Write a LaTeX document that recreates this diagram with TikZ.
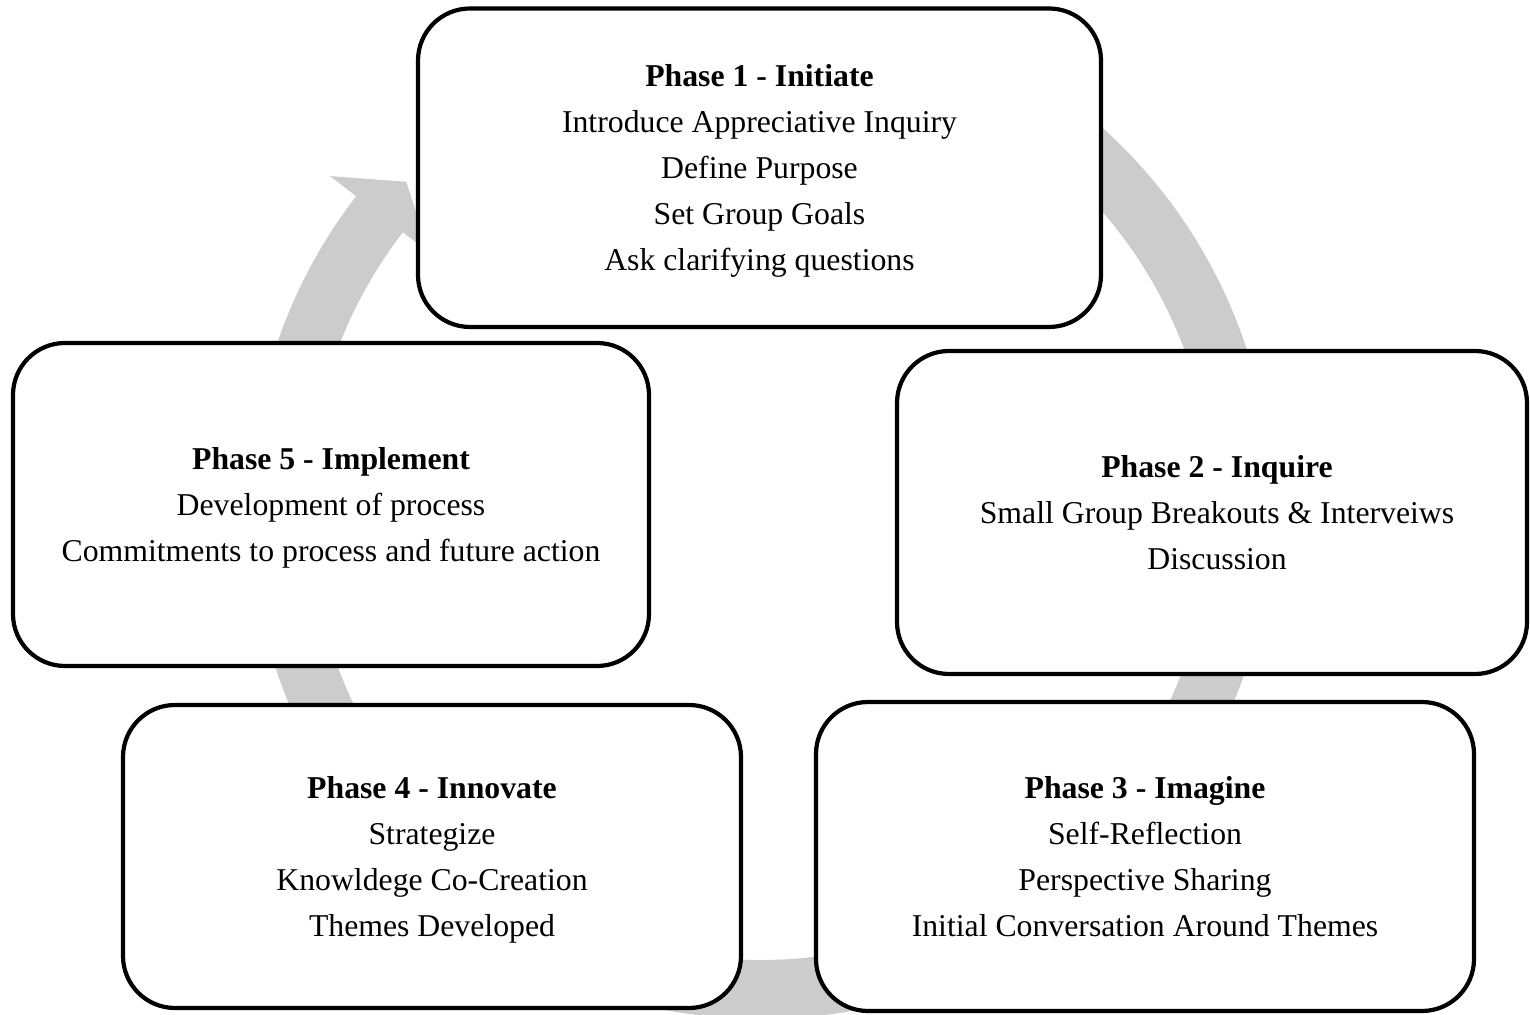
\documentclass[tikz,border=0pt]{standalone}
\usepackage{fontspec}
\setmainfont{Liberation Serif}
\usetikzlibrary{calc}
\definecolor{ringgray}{RGB}{204,204,204}
\tikzset{
  phasebox/.style={draw=black, line width=4.2pt, fill=white, rounded corners=52pt,
    inner sep=0pt},
  phasetext/.style={inner sep=0pt, align=center, font=\fontsize{31.75}{46}\selectfont},
  ringband/.style={draw=ringgray, line width=59pt}
}
\begin{document}
\begin{tikzpicture}[x=1pt,y=1pt]
\useasboundingbox (0,0) rectangle (1530,1014);
\coordinate (C) at (761,506);
% ring band
\draw[ringband] ($(C)+(142.0:481.5)$) arc[start angle=142.0, end angle=432, radius=481.5];
% arrow head
\coordinate (hout) at ($(C)+(142.4:544)$);
\coordinate (hin) at ($(C)+(142.4:419)$);
\coordinate (htip) at ($(C)+(137.4:482)$);
\fill[ringgray] (hout) -- (htip) -- (hin) -- cycle;
% boxes
\node[phasebox, minimum width=683pt, minimum height=318.5pt] (p1) at (759.5,846.25) {};
\node[phasebox, minimum width=630pt, minimum height=323pt] (p2) at (1212,501.5) {};
\node[phasebox, minimum width=658pt, minimum height=309pt] (p3) at (1145,157.5) {};
\node[phasebox, minimum width=618pt, minimum height=303pt] (p4) at (432,157.5) {};
\node[phasebox, minimum width=636pt, minimum height=323pt] (p5) at (331,509.5) {};
% texts
\node[phasetext] (t1) at (p1.center)
  {\textbf{Phase 1 - Initiate}\\Introduce Appreciative Inquiry\\Define Purpose\\Set Group Goals\\\smash{Ask clarifying questions}};
\node[phasetext, xshift=5pt] (t2) at (p2.center)
  {\textbf{Phase 2 - Inquire}\\Small Group Breakouts \& Interveiws\\\smash{Discussion}};
\node[phasetext] (t3) at (p3.center)
  {\textbf{Phase 3 - Imagine}\\Self-Reflection\\Perspective Sharing\\\smash{Initial Conversation Around Themes}};
\node[phasetext] (t4) at (p4.center)
  {\textbf{Phase 4 - Innovate}\\Strategize\\Knowldege Co-Creation\\\smash{Themes Developed}};
\node[phasetext] (t5) at (p5.center)
  {\textbf{Phase 5 - Implement}\\Development of process\\\smash{Commitments to process and future action}};
\end{tikzpicture}
\end{document}
